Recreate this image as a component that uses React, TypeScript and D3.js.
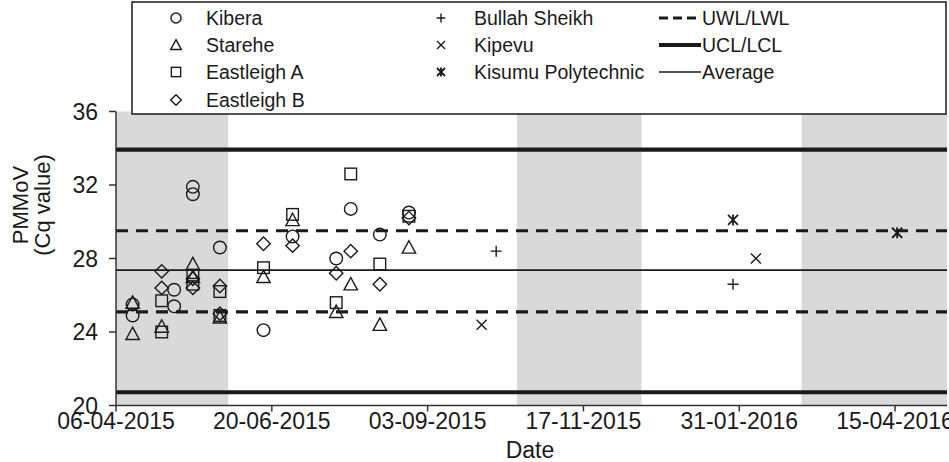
import React from "react";
import * as d3 from "d3";

const xTickLabels = ["06-04-2015", "20-06-2015", "03-09-2015", "17-11-2015", "31-01-2016", "15-04-2016"];
const yTicks = [20, 24, 28, 32, 36];
const xDomain = ["06-04-2015", "10-05-2016"];
const rainySeasons: [string, string][] = [
  ["06-04-2015", "30-05-2015"],
  ["16-10-2015", "15-12-2015"],
  ["01-03-2016", "10-05-2016"],
];

const kibera: [string, number][] = [
  ["14-04-2015", 25.5], ["14-04-2015", 24.9], ["04-05-2015", 26.3], ["04-05-2015", 25.4],
  ["13-05-2015", 31.9], ["13-05-2015", 31.5], ["26-05-2015", 28.6], ["16-06-2015", 24.1],
  ["30-06-2015", 29.2], ["21-07-2015", 28.0], ["28-07-2015", 30.7], ["11-08-2015", 29.3],
  ["25-08-2015", 30.5],
];
const starehe: [string, number][] = [
  ["14-04-2015", 25.6], ["14-04-2015", 23.9], ["28-04-2015", 24.3], ["13-05-2015", 27.7],
  ["13-05-2015", 27.0], ["26-05-2015", 24.8], ["16-06-2015", 27.0], ["30-06-2015", 30.1],
  ["21-07-2015", 25.1], ["28-07-2015", 26.6], ["11-08-2015", 24.4], ["25-08-2015", 28.6],
];
const eastleighA: [string, number][] = [
  ["28-04-2015", 25.7], ["28-04-2015", 24.0], ["13-05-2015", 27.1], ["13-05-2015", 26.6],
  ["26-05-2015", 26.2], ["26-05-2015", 24.9], ["16-06-2015", 27.5], ["30-06-2015", 30.4],
  ["21-07-2015", 25.6], ["28-07-2015", 32.6], ["11-08-2015", 27.7], ["25-08-2015", 30.3],
];
const eastleighB: [string, number][] = [
  ["28-04-2015", 27.3], ["28-04-2015", 26.4], ["13-05-2015", 26.9], ["13-05-2015", 26.4],
  ["26-05-2015", 26.5], ["26-05-2015", 25.0], ["16-06-2015", 28.8], ["30-06-2015", 28.7],
  ["21-07-2015", 27.2], ["28-07-2015", 28.4], ["11-08-2015", 26.6], ["25-08-2015", 30.2],
];
const bullahSheikh: [string, number][] = [["06-10-2015", 28.4], ["28-01-2016", 26.6]];
const kipevu: [string, number][] = [["29-09-2015", 24.4], ["08-02-2016", 28.0], ["16-04-2016", 29.4]];
const kisumuPolytechnic: [string, number][] = [["28-01-2016", 30.1], ["16-04-2016", 29.4]];

const UCL = 33.93;
const UWL = 29.51;
const AVERAGE = 27.37;
const LWL = 25.1;
const LCL = 20.72;

const parse = d3.timeParse("%d-%m-%Y");
const INK = "#1a1a1a";
const FONT = "Liberation Sans, Arial, sans-serif";

type Shape = "circle" | "triangle" | "square" | "diamond" | "plus" | "cross" | "star";

function Marker({ shape, x, y, s = 1 }: { shape: Shape; x: number; y: number; s?: number }) {
  const common = { fill: "none", stroke: INK, strokeWidth: 1.4 };
  switch (shape) {
    case "circle":
      return <circle cx={x} cy={y} r={6.3 * s} {...common} />;
    case "triangle": {
      const h = 6.7 * s;
      return <path d={`M${x},${y - h}L${x + h},${y + h * 0.85}L${x - h},${y + h * 0.85}Z`} {...common} />;
    }
    case "square": {
      const h = 5.8 * s;
      return <rect x={x - h} y={y - h} width={2 * h} height={2 * h} {...common} />;
    }
    case "diamond": {
      const h = 6.7 * s;
      return <path d={`M${x},${y - h}L${x + h},${y}L${x},${y + h}L${x - h},${y}Z`} {...common} />;
    }
    case "plus": {
      const h = 5.5 * s;
      return <path d={`M${x - h},${y}H${x + h}M${x},${y - h}V${y + h}`} {...common} />;
    }
    case "cross": {
      const h = 5 * s;
      return <path d={`M${x - h},${y - h}L${x + h},${y + h}M${x + h},${y - h}L${x - h},${y + h}`} {...common} />;
    }
    case "star": {
      const h = 5 * s;
      return (
        <path
          d={`M${x - h},${y - h}L${x + h},${y + h}M${x + h},${y - h}L${x - h},${y + h}M${x},${y - h * 1.1}V${y + h * 1.1}`}
          {...common}
          strokeWidth={1.8}
        />
      );
    }
  }
  return null;
}

export default function App() {
  const W = 949;
  const H = 462;
  const x = d3.scaleTime().domain(xDomain.map((d) => parse(d)!)).range([116, 947]);
  const y = d3.scaleLinear().domain([20, 36]).range([405.5, 111.5]);
  const [x0, x1] = x.range();

  const series: { name: string; shape: Shape; data: [string, number][] }[] = [
    { name: "Kibera", shape: "circle", data: kibera },
    { name: "Starehe", shape: "triangle", data: starehe },
    { name: "Eastleigh A", shape: "square", data: eastleighA },
    { name: "Eastleigh B", shape: "diamond", data: eastleighB },
    { name: "Bullah Sheikh", shape: "plus", data: bullahSheikh },
    { name: "Kipevu", shape: "cross", data: kipevu },
    { name: "Kisumu Polytechnic", shape: "star", data: kisumuPolytechnic },
  ];

  const refLines = [
    { v: UCL, w: 4.2, dash: undefined },
    { v: LCL, w: 4.2, dash: undefined },
    { v: UWL, w: 3.2, dash: "12 8" },
    { v: LWL, w: 3.2, dash: "12 8" },
    { v: AVERAGE, w: 1.6, dash: undefined },
  ];

  const legendRows = [18, 45, 72, 100];
  const legendLines = [
    { label: "UWL/LWL", w: 3.2, dash: "9 5" },
    { label: "UCL/LCL", w: 4.2, dash: undefined },
    { label: "Average", w: 1.6, dash: undefined },
  ];

  return (
    <svg width={W} height={H} style={{ position: "absolute", left: 0, top: 0, background: "#fff" }} fontFamily={FONT}>
      <rect x={0} y={0} width={W} height={H} fill="#fff" />
      {rainySeasons.map(([a, b], i) => (
        <rect key={i} x={x(parse(a)!)} y={y(36)} width={x(parse(b)!) - x(parse(a)!)} height={y(20) - y(36)} fill="#d9d9d9" />
      ))}
      {refLines.map((l, i) => (
        <line key={i} x1={x0} x2={x1} y1={y(l.v)} y2={y(l.v)} stroke={INK} strokeWidth={l.w} strokeDasharray={l.dash} />
      ))}
      {series.map((s) =>
        s.data.map(([d, v], i) => <Marker key={s.name + i} shape={s.shape} x={x(parse(d)!)} y={y(v)} />)
      )}
      {/* axes */}
      <line x1={x0} x2={x0} y1={y(36)} y2={y(20)} stroke="#333" strokeWidth={1.5} />
      <line x1={x0} x2={x1} y1={y(20)} y2={y(20)} stroke="#333" strokeWidth={1.5} />
      {yTicks.map((t) => (
        <g key={t}>
          <line x1={x0 - 7} x2={x0} y1={y(t)} y2={y(t)} stroke="#333" strokeWidth={1.5} />
          <text x={98} y={y(t)} dy="0.36em" textAnchor="end" fontSize={23} fill={INK}>
            {t}
          </text>
        </g>
      ))}
      {xTickLabels.map((t) => {
        const px = x(parse(t)!);
        return (
          <g key={t}>
            <line x1={px} x2={px} y1={y(20)} y2={y(20) + 6} stroke="#333" strokeWidth={1.5} />
            <text x={px} y={429} textAnchor="middle" fontSize={23} fill={INK}>
              {t}
            </text>
          </g>
        );
      })}
      <text x={530} y={458} textAnchor="middle" fontSize={23} fill={INK}>
        Date
      </text>
      <g transform="translate(20,205) rotate(-90)">
        <text x={0} y={0} dy="0.36em" textAnchor="middle" fontSize={22} fill={INK}>
          PMMoV
        </text>
        <text x={0} y={22} dy="0.36em" textAnchor="middle" fontSize={22} fill={INK}>
          (Cq value)
        </text>
      </g>
      {/* legend */}
      <rect x={132} y={2} width={814} height={112} fill="#fff" stroke={INK} strokeWidth={1.5} />
      {series.map((s, i) => {
        const col = i < 4 ? 0 : 1;
        const row = i < 4 ? i : i - 4;
        const mx = col === 0 ? 176 : 441;
        const tx = col === 0 ? 206 : 474;
        return (
          <g key={s.name}>
            <Marker shape={s.shape} x={mx} y={legendRows[row]} s={0.8} />
            <text x={tx} y={legendRows[row]} dy="0.36em" fontSize={19.5} fill={INK}>
              {s.name}
            </text>
          </g>
        );
      })}
      {legendLines.map((l, i) => (
        <g key={l.label}>
          <line x1={659} x2={701} y1={legendRows[i]} y2={legendRows[i]} stroke={INK} strokeWidth={l.w} strokeDasharray={l.dash} />
          <text x={702} y={legendRows[i]} dy="0.36em" fontSize={19.5} fill={INK}>
            {l.label}
          </text>
        </g>
      ))}
    </svg>
  );
}
